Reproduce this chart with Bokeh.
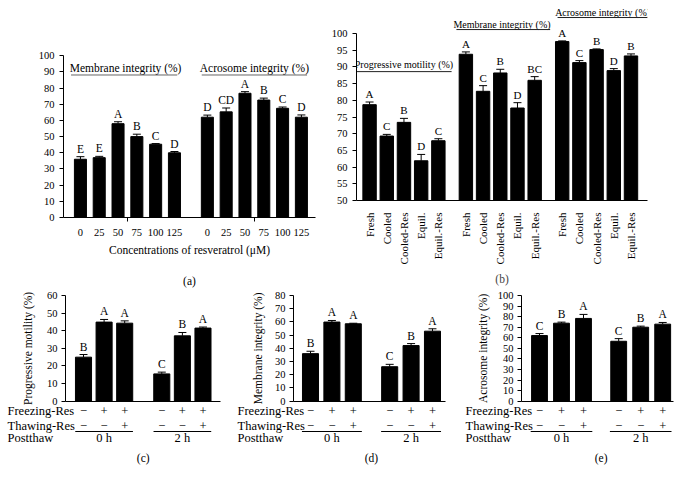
import math
from bokeh.plotting import figure
from bokeh.models import (ColumnDataSource, Whisker, TeeHead, FixedTicker, Title,
                          Range1d, LinearAxis)
from bokeh.layouts import column, row
from bokeh.core.properties import value
from bokeh.embed import file_html
from bokeh.resources import INLINE

# ---------------- data ----------------
conc_labels = ["0", "25", "50", "75", "100", "125"]
a_membrane = [36.0, 37.0, 58.0, 50.0, 45.3, 40.0]
a_membrane_err = [1.6, 0.8, 1.2, 1.5, 0.4, 0.8]
a_membrane_letters = ["E", "E", "A", "B", "C", "D"]
a_acrosome = [62.0, 65.3, 76.8, 72.6, 67.5, 62.0]
a_acrosome_err = [1.3, 2.4, 1.0, 1.2, 0.8, 1.4]
a_acrosome_letters = ["D", "CD", "A", "B", "C", "D"]

b_treatments = ["Fresh", "Cooled", "Cooled-Res", "Equil.", "Equil.-Res"]
b_motility = [78.7, 69.3, 73.4, 61.9, 67.9]
b_motility_err = [0.8, 0.5, 1.2, 1.9, 0.6]
b_motility_letters = ["A", "C", "B", "D", "C"]
b_membrane = [93.8, 82.7, 88.2, 77.7, 86.0]
b_membrane_err = [0.7, 1.7, 1.1, 1.6, 1.1]
b_membrane_letters = ["A", "C", "B", "D", "BC"]
b_acrosome = [97.6, 91.3, 95.2, 88.9, 93.3]
b_acrosome_err = [0.2, 0.6, 0.2, 0.6, 0.6]
b_acrosome_letters = ["A", "C", "B", "D", "B"]

c_motility = [25.0, 44.9, 44.3, 15.5, 37.1, 41.5]
c_motility_err = [1.5, 1.5, 1.3, 1.0, 1.9, 0.6]
c_letters = ["B", "A", "A", "C", "B", "A"]
d_membrane = [36.0, 59.9, 58.6, 26.1, 42.1, 53.0]
d_membrane_err = [1.8, 1.2, 0.4, 1.8, 1.5, 1.8]
d_letters = ["B", "A", "A", "C", "B", "A"]
e_acrosome = [62.1, 73.8, 78.3, 56.7, 70.0, 72.9]
e_acrosome_err = [1.9, 1.0, 3.8, 2.5, 1.0, 1.6]
e_letters = ["C", "B", "A", "C", "B", "A"]

freezing_res = ["\u2212", "+", "+", "\u2212", "+", "+"]
thawing_res = ["\u2212", "\u2212", "+", "\u2212", "\u2212", "+"]
postthaw = ["0 h", "2 h"]
row_names = ["Freezing-Res", "Thawing-Res", "Postthaw"]

# ---------------- style ----------------
FONT = "Liberation Serif"
TICK_FS = "10.5px"
TXT_FS = "11.5px"
ROW_FS = "12.5px"


def base_fig(width, height, x_range, y_range, **kw):
    p = figure(width=width, height=height, x_range=x_range, y_range=y_range,
               output_backend="svg", toolbar_location=None, **kw)
    p.frame_align = False
    p.xgrid.visible = False
    p.ygrid.visible = False
    p.outline_line_color = None
    p.background_fill_color = "white"
    p.border_fill_color = "white"
    return p


def style_axis(ax):
    ax.major_label_text_font = FONT
    ax.major_label_text_font_size = TICK_FS
    ax.major_label_text_color = "black"
    ax.axis_label_text_font = FONT
    ax.axis_label_text_font_size = TXT_FS
    ax.axis_label_text_font_style = "normal"
    ax.axis_label_text_color = "black"
    ax.axis_line_color = "black"
    ax.major_tick_line_color = "black"
    ax.minor_tick_line_color = None
    ax.major_tick_in = 0
    ax.major_tick_out = 4


def bars(p, xs, vals, errs, letters, width, head=8, fs=TXT_FS):
    hi = [v + e for v, e in zip(vals, errs)]
    src = ColumnDataSource(dict(x=xs, top=vals, hi=hi, lab=letters))
    p.vbar(x="x", top="top", bottom=0, width=width, source=src,
           fill_color="black", line_color="black")
    p.add_layout(Whisker(source=src, base="x", upper="hi", lower="top",
                         upper_head=TeeHead(size=head, line_color="black", line_width=1),
                         lower_head=None, line_color="black", line_width=1))
    p.text(x="x", y="hi", text="lab", source=src, y_offset=-2,
           text_align="center", text_baseline="bottom",
           text_font=value(FONT), text_font_size=fs, text_color="black")


def header(p, xc, y_text, y_line, x0, x1, label, fs, color):
    p.text(x=[xc], y=[y_text], text=[label], text_align="center",
           text_baseline="middle", text_font=value(FONT), text_font_size=fs,
           text_color="black")
    p.segment(x0=[x0], y0=[y_line], x1=[x1], y1=[y_line], line_color=color,
              line_width=1)


TOP_H = 289
BOT_H = 480 - TOP_H

# ---------------- panel (a) ----------------
a_gap = 6.75
a_x1 = list(range(6))
a_x2 = [a_gap + i for i in range(6)]
pa = base_fig(325, TOP_H, Range1d(-0.9, 12.5), Range1d(0, 102),
              min_border_left=63, min_border_right=10,
              min_border_top=52, min_border_bottom=66)
bars(pa, a_x1, a_membrane, a_membrane_err, a_membrane_letters, 0.64)
bars(pa, a_x2, a_acrosome, a_acrosome_err, a_acrosome_letters, 0.64)
header(pa, 2.4, 92.3, 88.1, -0.5, 5.15, "Membrane integrity (%)", TXT_FS, "#666666")
header(pa, a_gap + 2.5, 92.3, 88.1, a_gap - 0.3, a_gap + 5.3,
       "Acrosome integrity (%)", TXT_FS, "#666666")
style_axis(pa.yaxis[0])
pa.yaxis.ticker = FixedTicker(ticks=list(range(0, 101, 10)))
pa.yaxis.bounds = (0, 100)
style_axis(pa.xaxis[0])
all_a = a_x1 + a_x2
pa.xaxis.ticker = FixedTicker(ticks=all_a, minor_ticks=[2.5, a_gap + 2.5])
pa.xaxis.major_label_overrides = {x: lab for x, lab in zip(all_a, conc_labels * 2)}
pa.xaxis.major_tick_line_color = None
pa.xaxis.minor_tick_line_color = "black"
pa.xaxis.minor_tick_in = 0
pa.xaxis.minor_tick_out = 4
pa.xaxis.major_label_standoff = 7
pa.xaxis.axis_label = "Concentrations of resveratrol (\u03bcM)"
pa.xaxis.axis_label_standoff = 5
# caption "(a)" as the label of an extra, line-less axis below
cap_a = LinearAxis(ticker=FixedTicker(ticks=[]), axis_line_color=None,
                   major_tick_line_color=None, minor_tick_line_color=None,
                   axis_label="(a)", axis_label_text_font=FONT,
                   axis_label_text_font_size=TXT_FS,
                   axis_label_text_font_style="normal",
                   axis_label_text_color="black", axis_label_standoff=16)
pa.add_layout(cap_a, "below")

# ---------------- panel (b) ----------------
b_g2 = 5.6
b_g3 = 11.2
b_x1 = list(range(5))
b_x2 = [b_g2 + i for i in range(5)]
b_x3 = [b_g3 + i for i in range(5)]
pb = base_fig(362, TOP_H, Range1d(-0.76, 16.16), Range1d(50, 109.9),
              min_border_left=31, min_border_right=40,
              min_border_top=0, min_border_bottom=89)
bars(pb, b_x1, b_motility, b_motility_err, b_motility_letters, 0.78, head=8, fs="11px")
bars(pb, b_x2, b_membrane, b_membrane_err, b_membrane_letters, 0.78, head=8, fs="11px")
bars(pb, b_x3, b_acrosome, b_acrosome_err, b_acrosome_letters, 0.78, head=8, fs="11px")
header(pb, 2.0, 90.8, 88.6, -0.76, 4.77, "Progressive motility (%)", "10px", "#222222")
header(pb, b_g2 + 2.1, 102.8, 101.2, b_g2 - 0.55, b_g2 + 4.9,
       "Membrane integrity (%)", "10px", "#222222")
header(pb, b_g3 + 2.35, 106.4, 104.8, b_g3 - 0.27, 16.16,
       "Acrosome integrity (%)", "10px", "#222222")
style_axis(pb.yaxis[0])
pb.yaxis.ticker = FixedTicker(ticks=list(range(50, 101, 5)))
pb.yaxis.bounds = (50, 100)
style_axis(pb.xaxis[0])
all_b = b_x1 + b_x2 + b_x3
pb.xaxis.ticker = FixedTicker(ticks=all_b)
pb.xaxis.major_label_overrides = {x: lab for x, lab in zip(all_b, b_treatments * 3)}
pb.xaxis.major_label_orientation = math.pi / 2
pb.xaxis.major_label_text_font_size = "11px"
pb.xaxis.major_tick_line_color = None
pb.xaxis.major_label_standoff = 8
pb.add_layout(Title(text="(b)", align="center", text_font=FONT,
                    text_font_size=TXT_FS, text_font_style="normal",
                    standoff=6), "below")


# ---------------- panels (c), (d), (e) ----------------
def bottom_panel(width, fig_left, axis_x_ref, right_ref, bar0_ref, px_x, gap,
                 ymax, vals, errs, letters, ylabel, caption, rowlabel_ref, bw,
                 ylabel_ref):
    top_ref, bottom_ref, y0_ref, ytop_ref = float(TOP_H), 480.0, 400.7, 295.0
    px_y = (y0_ref - ytop_ref) / ymax
    xr = Range1d((fig_left - bar0_ref) / px_x, (fig_left + width - bar0_ref) / px_x)
    yr = Range1d(-(bottom_ref - y0_ref) / px_y, (y0_ref - top_ref) / px_y)
    p = base_fig(width, BOT_H, xr, yr, min_border=0)
    xs = [0, 1, 2, gap, gap + 1, gap + 2]
    bars(p, xs, vals, errs, letters, bw)
    axis_x = (axis_x_ref - bar0_ref) / px_x
    right_x = (right_ref - bar0_ref) / px_x
    # y axis at a fixed location
    style_axis(p.yaxis[0])
    p.yaxis.fixed_location = axis_x
    p.yaxis.bounds = (0, ymax)
    p.yaxis.ticker = FixedTicker(ticks=list(range(0, ymax + 1, 10)))
    p.yaxis.major_label_standoff = 4
    # rotated y-axis title
    p.text(x=[(ylabel_ref - bar0_ref) / px_x], y=[ymax / 2], text=[ylabel],
           angle=math.pi / 2, text_align="center", text_baseline="middle",
           text_font=value(FONT), text_font_size=TXT_FS, text_color="black")
    # x axis line at y = 0
    style_axis(p.xaxis[0])
    p.xaxis.fixed_location = 0
    p.xaxis.bounds = (axis_x, right_x)
    p.xaxis.ticker = FixedTicker(ticks=[])
    p.xaxis.major_tick_line_color = None

    def yrow(dpx):
        return -dpx / px_y

    tkw = dict(text_align="center", text_baseline="middle",
               text_font=value(FONT), text_font_size=ROW_FS, text_color="black")
    p.text(x=xs, y=[yrow(9.3)] * 6, text=freezing_res, **tkw)
    p.text(x=xs, y=[yrow(24.3)] * 6, text=thawing_res, **tkw)
    gcent = [1, gap + 1]
    p.text(x=gcent, y=[yrow(36.5)] * 2, text=postthaw, **tkw)
    p.segment(x0=[-0.4, gap - 0.4], y0=[yrow(30.3)] * 2,
              x1=[2.4, gap + 2.4], y1=[yrow(30.3)] * 2, line_color="black", line_width=1)
    lab_x = (rowlabel_ref - bar0_ref) / px_x
    p.text(x=[lab_x] * 3, y=[yrow(9.3), yrow(24.3), yrow(36.5)], text=row_names,
           text_align="left", text_baseline="middle", text_font=value(FONT),
           text_font_size=ROW_FS, text_color="black")
    p.text(x=[(gap + 2) / 2], y=[yrow(56.3)], text=[caption],
           text_align="center", text_baseline="middle", text_font=value(FONT),
           text_font_size=TXT_FS, text_color="black")
    return p


pc = bottom_panel(228, 0, 65, 220, 83, 20.6, 3.8, 60, c_motility, c_motility_err,
                  c_letters, "Progressive motility (%)", "(c)", 7, 0.78, 27)
pd_ = bottom_panel(230, 228, 293, 445, 310, 21.4, 3.7, 80, d_membrane, d_membrane_err,
                   d_letters, "Membrane integrity (%)", "(d)", 237, 0.75, 257)
pe = bottom_panel(229, 458, 521, 673, 539, 22.0, 3.6, 100, e_acrosome, e_acrosome_err,
                  e_letters, "Acrosome integrity (%)", "(e)", 465, 0.72, 482)

layout = column(row(pa, pb), row(pc, pd_, pe))
open("out.html", "w").write(file_html(layout, INLINE))
